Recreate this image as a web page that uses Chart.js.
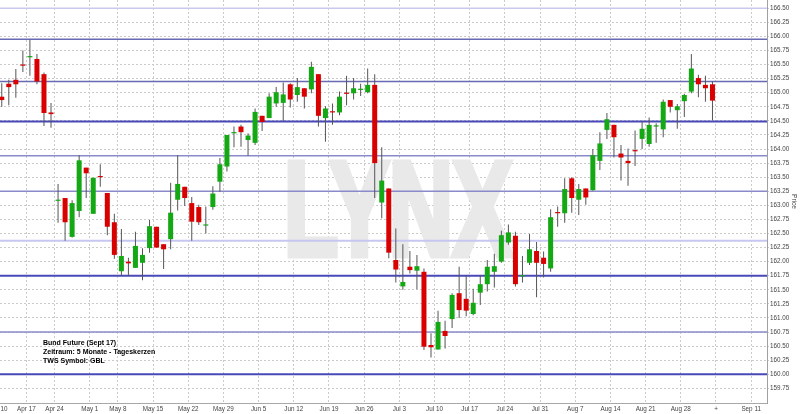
<!DOCTYPE html>
<html><head><meta charset="utf-8">
<script src="https://cdn.jsdelivr.net/npm/chart.js@4.4.1/dist/chart.umd.min.js"></script>
<style>html,body{margin:0;padding:0;background:#fff}canvas{display:block}</style>
</head><body>
<canvas id="c" width="800" height="414"></canvas>
<script>
// Daily candles, Apr 10 2017 .. Sep 1 2017 (trading-day index 0..101)
const opens = [164.93,165.16,165.23,165.50,165.63,165.60,165.33,164.65,163.08,163.13,162.44,162.90,163.67,162.85,163.52,163.22,162.70,161.83,162.00,161.89,161.98,162.24,162.62,162.31,162.40,163.10,163.33,163.04,162.97,162.64,162.97,163.42,163.69,164.28,164.40,164.16,164.11,164.59,164.55,164.81,164.82,165.15,164.96,165.08,165.06,165.33,164.55,164.67,164.65,165.00,164.99,165.05,165.01,165.14,163.05,163.30,162.03,161.56,161.91,161.84,161.82,160.52,160.44,160.77,160.98,161.44,161.34,161.07,161.45,161.60,161.82,162.00,162.34,162.46,161.74,161.98,162.19,162.07,161.88,162.88,162.86,163.48,163.10,163.30,163.27,163.79,164.34,164.43,163.92,163.79,163.98,164.18,164.09,164.40,164.35,164.87,164.69,164.85,165.02,165.26,165.14,165.15];
const highs = [165.17,165.23,165.42,165.75,165.94,165.69,165.36,164.82,163.38,163.13,163.09,163.89,163.67,163.49,163.73,163.22,162.85,162.58,162.07,162.53,162.24,162.74,162.62,162.31,163.40,163.89,163.33,163.15,163.01,162.98,163.34,163.84,164.25,164.40,164.43,164.28,164.72,164.59,164.99,165.10,165.18,165.17,165.26,165.08,165.55,165.33,164.76,164.81,165.02,165.30,165.26,165.16,165.43,165.33,164.03,163.30,162.59,162.31,162.19,162.12,161.88,160.73,161.13,160.95,161.44,161.91,161.75,161.52,161.76,162.03,162.14,162.55,162.66,162.53,162.10,162.49,162.35,162.18,162.93,162.98,163.48,163.50,163.38,163.30,164.00,164.30,164.64,164.43,164.07,164.01,164.33,164.49,164.56,164.46,164.88,164.87,164.80,164.98,165.69,165.32,165.30,165.20];
const lows = [164.75,164.78,164.91,165.37,165.30,165.15,164.41,164.38,162.69,162.37,162.43,162.79,163.13,162.85,163.33,162.47,162.05,161.75,161.75,161.89,161.67,162.16,162.25,161.87,162.22,162.91,162.99,162.37,162.65,162.50,162.92,163.24,163.60,164.03,164.04,163.88,164.07,164.32,164.55,164.75,164.50,164.74,164.84,164.72,164.99,164.40,164.13,164.43,164.60,164.78,164.88,164.94,164.99,163.13,162.77,162.06,161.63,161.50,161.79,161.51,160.43,160.30,160.44,160.46,160.82,161.00,161.03,161.05,161.23,161.47,161.54,161.98,162.30,161.56,161.63,161.94,161.37,161.72,161.82,162.62,162.69,162.87,162.83,163.01,163.26,163.63,164.18,163.85,163.44,163.35,163.70,164.00,164.04,164.11,164.21,164.65,164.36,164.57,164.99,164.92,164.84,164.51];
const closes = [164.87,165.10,165.15,165.48,165.65,165.20,164.64,164.62,163.10,162.70,163.04,163.80,163.57,163.49,163.50,162.62,162.12,162.10,161.97,162.28,162.12,162.63,162.25,162.22,162.87,163.38,163.13,162.71,162.70,162.66,163.21,163.73,164.25,164.30,164.30,164.24,164.66,164.48,164.93,165.01,164.97,164.88,165.10,164.93,165.46,164.59,164.72,164.65,164.93,164.98,165.08,165.07,165.14,163.75,163.44,162.16,161.86,161.64,161.85,161.92,160.49,160.48,160.93,160.68,161.41,161.14,161.13,161.27,161.60,161.91,161.92,162.47,162.52,161.60,161.76,162.22,161.98,161.96,162.79,162.86,163.29,163.13,163.29,163.14,163.89,164.10,164.53,164.21,163.85,163.75,163.96,164.36,164.43,164.42,164.84,164.75,164.76,164.96,165.43,165.15,165.08,164.86];

// Week separators (x axis) : label + trading-day index of week start
const weekTickLabels = ["Apr 10","Apr 17","Apr 24","May 1","May 8","May 15","May 22","May 29","Jun 5","Jun 12","Jun 19","Jun 26","Jul 3","Jul 10","Jul 17","Jul 24","Jul 31","Aug 7","Aug 14","Aug 21","Aug 28","+","Sep 11"];
const weekStartIndex = [0,4,8,13,17,22,27,32,37,42,47,52,57,62,67,72,77,82,87,92,97,102,107];

// Price axis ticks
const priceTicks = [159.75,160.00,160.25,160.50,160.75,161.00,161.25,161.50,161.75,162.00,162.25,162.50,162.75,163.00,163.25,163.50,163.75,164.00,164.25,164.50,164.75,165.00,165.25,165.50,165.75,166.00,166.25,166.50];

// Horizontal support / resistance lines
const levelValues = [166.50,165.95,165.20,164.49,163.88,163.25,162.37,161.75,160.75,160.00];
const levelColors = ["#c9c9ee","#6a6ab4","#6a6ab4","#4848b8","#8a8acb","#8a8acb","#c6c6f0","#4848b8","#8a8acb","#4848b8"];
const levelWidths = [1.5,1.5,1.5,2,1.5,1.5,2,2,1.5,2];

const infoLines = ["Bund Future (Sept 17)","Zeitraum: 5 Monate - Tageskerzen","TWS Symbol: GBL"];

const X_MIN = -0.25, X_MAX = 108.75;
const UP = "#14a814", DOWN = "#d90000", WICK = "#555555";

const FONT = '"Liberation Sans", Arial, sans-serif';
Chart.defaults.font.family = FONT;

const wickData = opens.map((o, i) => ({x: i, y: [lows[i], highs[i]]}));
const bodyData = opens.map((o, i) => ({x: i, y: [o, closes[i]]}));
const bodyColors = opens.map((o, i) => closes[i] >= o ? UP : DOWN);

const levelSets = levelValues.map((v, k) => ({
  type: 'line',
  data: [{x: X_MIN, y: v}, {x: X_MAX, y: v}],
  borderColor: levelColors[k],
  borderWidth: levelWidths[k],
  pointRadius: 0,
  fill: false,
  order: 10
}));

const decor = {
  id: 'decor',
  beforeDatasetsDraw(chart) {
    const ctx = chart.ctx;
    ctx.save();
    ctx.translate(398, 255);
    ctx.scale(0.66, 1);
    ctx.font = 'bold 134px ' + FONT;
    ctx.textAlign = 'center';
    ctx.textBaseline = 'alphabetic';
    ctx.fillStyle = '#e9e9e9';
    ctx.strokeStyle = '#e9e9e9';
    ctx.lineWidth = 7;
    ctx.lineJoin = 'miter';
    ctx.fillText('LYNX', 0, 0);
    ctx.strokeText('LYNX', 0, 0);
    ctx.restore();
  },
  afterDatasetsDraw(chart) {
    const ctx = chart.ctx;
    ctx.save();
    ctx.font = 'bold 7px ' + FONT;
    ctx.fillStyle = '#000';
    ctx.textAlign = 'left';
    ctx.textBaseline = 'middle';
    infoLines.forEach((t, i) => ctx.fillText(t, 43, 343.5 + i * 9));
    ctx.restore();
  }
};

new Chart(document.getElementById('c'), {
  type: 'bar',
  data: {
    datasets: [
      {data: bodyData, backgroundColor: bodyColors, barThickness: 5, minBarLength: 1.2, grouped: false, order: 0, borderWidth: 0, inflateAmount: 0},
      {data: wickData, backgroundColor: WICK, barThickness: 1, grouped: false, order: 1, borderWidth: 0, inflateAmount: 0},
      ...levelSets
    ]
  },
  options: {
    responsive: false,
    animation: false,
    events: [],
    layout: {padding: 0},
    plugins: {legend: {display: false}, tooltip: {enabled: false}},
    scales: {
      x: {
        type: 'linear', min: X_MIN, max: X_MAX, offset: false,
        grid: {offset: false, color: '#cacaca', lineWidth: 1, drawTicks: false},
        border: {display: true, color: '#a8a8a8', dash: [2, 2]},
        ticks: {autoSkip: false, maxRotation: 0, minRotation: 0, padding: 2, color: '#444', font: {size: 6.3},
          callback: (v, i) => weekTickLabels[i]},
        afterBuildTicks: s => { s.ticks = weekStartIndex.map(i => ({value: i - 0.5})); },
        afterFit: s => { s.height = 11; s.paddingLeft = 0; s.paddingRight = 0; }
      },
      y: {
        type: 'linear', position: 'right', min: 159.49, max: 166.647, beginAtZero: false,
        grid: {color: '#cacaca', lineWidth: 1, drawTicks: true, tickLength: 2, tickBorderDash: [2, 2]},
        border: {display: true, color: '#a0a0a0', dash: [2, 2]},
        ticks: {padding: 1, color: '#444', font: {size: 6.3}, callback: v => Number(v).toFixed(2)},
        afterBuildTicks: s => { s.ticks = priceTicks.map(v => ({value: v})); },
        title: {display: true, text: 'Price', color: '#444', font: {size: 6.5}, padding: {top: 2, bottom: 2}},
        afterFit: s => { s.width = 33; s.paddingTop = 0; s.paddingBottom = 0; }
      }
    }
  },
  plugins: [decor]
});
</script>
</body></html>
